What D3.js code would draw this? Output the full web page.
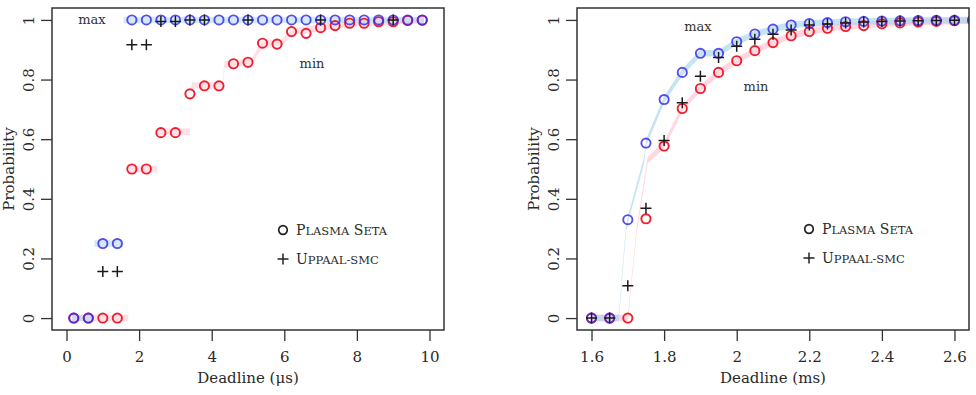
<!DOCTYPE html>
<html>
<head>
<meta charset="utf-8">
<script src="https://cdnjs.cloudflare.com/ajax/libs/d3/7.8.5/d3.min.js"></script>
<style>
  body { margin: 0; background: #fff; }
  svg { display: block; }
  text { font-family: 'DejaVu Serif', serif; fill: #2a2a2a; }
</style>
</head>
<body>
<svg id="chart" width="976" height="395"></svg>
<script>
// ---- left panel: deadline in microseconds ----
var leftX = [0.2, 0.6, 1.0, 1.4, 1.8, 2.2, 2.6, 3.0, 3.4, 3.8, 4.2, 4.6, 5.0,
             5.4, 5.8, 6.2, 6.6, 7.0, 7.4, 7.8, 8.2, 8.6, 9.0, 9.4, 9.8];
var leftMax = [0, 0, 0.25, 0.25, 1, 1, 1, 1, 1, 1, 1, 1, 1,
               1, 1, 1, 1, 1, 1, 1, 1, 1, 1, 1, 1];
var leftMin = [0, 0, 0, 0, 0.5, 0.5, 0.622, 0.622, 0.752, 0.779, 0.779, 0.853, 0.858,
               0.922, 0.919, 0.961, 0.955, 0.974, 0.981, 0.989, 0.989, 0.994, 0.994, 0.998, 0.999];
var leftUppX = [1.0, 1.4, 1.8, 2.2, 2.6, 3.0, 3.4, 3.8, 5.0, 7.0, 9.0];
var leftUppY = [0.156, 0.156, 0.917, 0.917, 0.995, 0.995, 1, 1, 1, 1, 1];
// exact curves drawn as faint bands behind the estimates
var leftMaxBandX = [0.15, 0.75, 0.77, 1.55, 1.57, 9.85];
var leftMaxBandY = [0, 0, 0.25, 0.25, 1, 1];
var leftMinBandX = [0.15, 1.7, 1.72, 2.5, 2.52, 3.4, 3.45, 4.3, 4.35, 5.1, 5.4, 5.95, 6.2, 6.8, 7.3, 8.0, 9.0, 9.85];
var leftMinBandY = [0, 0, 0.5, 0.5, 0.625, 0.625, 0.78, 0.78, 0.85, 0.86, 0.92, 0.925, 0.96, 0.97, 0.98, 0.99, 0.995, 1];
var leftTicks = [0, 2, 4, 6, 8, 10];

// ---- right panel: deadline in milliseconds ----
var rightX = [1.6, 1.65, 1.7, 1.75, 1.8, 1.85, 1.9, 1.95, 2.0, 2.05, 2.1,
              2.15, 2.2, 2.25, 2.3, 2.35, 2.4, 2.45, 2.5, 2.55, 2.6, 2.65];
var rightMax = [0, 0, 0.33, 0.587, 0.733, 0.824, 0.888, 0.888, 0.927, 0.953, 0.969,
                0.983, 0.988, 0.991, 0.994, 0.995, 0.996, 0.997, 0.998, 0.999, 0.999, 1];
var rightMin = [0, 0, 0, 0.333, 0.577, 0.703, 0.77, 0.824, 0.863, 0.897, 0.924,
                0.947, 0.961, 0.972, 0.978, 0.981, 0.987, 0.99, 0.993, 0.995, 0.997, 0.998];
var rightUppX = [1.6, 1.65, 1.7, 1.75, 1.8, 1.85, 1.9, 1.95, 2.0, 2.05, 2.1,
                 2.15, 2.2, 2.25, 2.3, 2.35, 2.4, 2.45, 2.5, 2.55, 2.6];
var rightUppY = [0, 0, 0.108, 0.368, 0.596, 0.722, 0.811, 0.874, 0.912, 0.935, 0.952,
                 0.966, 0.983, 0.986, 0.99, 0.993, 0.995, 0.996, 0.997, 0.998, 0.999];
var rightMaxBandX = [1.6, 1.675, 1.695, 1.7, 1.745, 1.75, 1.8, 1.85, 1.9, 1.95, 2.0, 2.05, 2.1,
                     2.15, 2.2, 2.25, 2.3, 2.4, 2.5, 2.65];
var rightMaxBandY = [0, 0, 0.3, 0.33, 0.53, 0.587, 0.733, 0.824, 0.888, 0.888, 0.927, 0.953, 0.969,
                     0.983, 0.988, 0.991, 0.994, 0.996, 0.998, 1];
var rightMinBandX = [1.6, 1.7, 1.725, 1.755, 1.8, 1.85, 1.9, 1.95, 2.0, 2.05, 2.1,
                     2.15, 2.2, 2.25, 2.3, 2.4, 2.5, 2.65];
var rightMinBandY = [0, 0, 0.3, 0.53, 0.58, 0.703, 0.77, 0.824, 0.863, 0.897, 0.924,
                     0.947, 0.961, 0.972, 0.978, 0.987, 0.993, 0.998];
var rightTicks = [1.6, 1.8, 2.0, 2.2, 2.4, 2.6];

var yTicks = [0, 0.2, 0.4, 0.6, 0.8, 1];

var BLUE = '#3b2cf0', RED = '#f01e2c';
var BAND_BLUE = '#a6d6ea', BAND_RED = '#ffc2cf';

var svg = d3.select('#chart');

function zip(xs, ys) {
  return xs.map(function(x, i) { return {x: x, y: ys[i]}; });
}

function drawPanel(p) {
  var x = d3.scaleLinear().domain(p.xDomain).range([p.left, p.right]);
  var y = d3.scaleLinear().domain([-0.04, 1.04]).range([p.bottom, p.top]);

  var g = svg.append('g');
  var clipId = 'clip-' + p.id;
  g.append('clipPath').attr('id', clipId)
    .append('rect')
      .attr('x', p.left).attr('y', p.top)
      .attr('width', p.right - p.left).attr('height', p.bottom - p.top);

  var plot = g.append('g').attr('clip-path', 'url(#' + clipId + ')');

  // bands: constant vertical half-width around the exact curves
  var band = d3.area()
    .x(function(d) { return x(d.x); })
    .y0(function(d) { return y(d.y - 0.011); })
    .y1(function(d) { return y(d.y + 0.011); });

  plot.append('path').datum(zip(p.minBandX, p.minBandY))
    .attr('d', band).attr('fill', BAND_RED).attr('opacity', p.bandOpacity);
  plot.append('path').datum(zip(p.maxBandX, p.maxBandY))
    .attr('d', band).attr('fill', BAND_BLUE).attr('opacity', p.bandOpacity);

  plot.selectAll('circle.min')
      .data(zip(p.xs, p.min))
    .enter().append('circle')
      .attr('class', 'min')
      .attr('cx', function(d) { return x(d.x); })
      .attr('cy', function(d) { return y(d.y); })
      .attr('r', 4.6)
      .attr('fill', 'none')
      .attr('stroke', RED)
      .attr('stroke-width', 1.9);

  plot.selectAll('circle.max')
      .data(zip(p.xs, p.max))
    .enter().append('circle')
      .attr('class', 'max')
      .attr('cx', function(d) { return x(d.x); })
      .attr('cy', function(d) { return y(d.y); })
      .attr('r', 4.6)
      .attr('fill', 'none')
      .attr('stroke', BLUE)
      .attr('stroke-opacity', 0.85)
      .attr('stroke-width', 1.9);

  plot.selectAll('path.upp')
      .data(zip(p.uppX, p.uppY))
    .enter().append('path')
      .attr('class', 'upp')
      .attr('d', function(d) {
        var cx = x(d.x), cy = y(d.y), s = 5.5;
        return 'M' + (cx - s) + ',' + cy + 'H' + (cx + s) +
               'M' + cx + ',' + (cy - s) + 'V' + (cy + s);
      })
      .attr('stroke', '#1a1a1a')
      .attr('stroke-width', 1.5);

  // box
  g.append('rect')
    .attr('x', p.left).attr('y', p.top)
    .attr('width', p.right - p.left).attr('height', p.bottom - p.top)
    .attr('fill', 'none').attr('stroke', '#333').attr('stroke-width', 1.5);

  // axes
  var xAxis = g.append('g')
    .attr('transform', 'translate(0,' + p.bottom + ')')
    .call(d3.axisBottom(x).tickValues(p.xTicks).tickSize(11).tickSizeOuter(0)
      .tickFormat(d3.format('~g')));
  xAxis.select('.domain').remove();
  xAxis.selectAll('line').attr('stroke', '#333').attr('stroke-width', 1.3);
  xAxis.selectAll('text')
    .attr('y', 0).attr('dy', 0)
    .attr('transform', 'translate(0,32)')
    .style('font-size', '15px')
    .style('font-family', "'DejaVu Serif', serif")
    .style('fill', '#2a2a2a');

  var yAxis = g.append('g')
    .attr('transform', 'translate(' + p.left + ',0)')
    .call(d3.axisLeft(y).tickValues(yTicks).tickSize(11).tickSizeOuter(0)
      .tickFormat(d3.format('~g')));
  yAxis.select('.domain').remove();
  yAxis.selectAll('line').attr('stroke', '#333').attr('stroke-width', 1.3);
  yAxis.selectAll('text')
    .attr('x', 0).attr('dy', 0)
    .attr('text-anchor', 'middle')
    .attr('transform', 'translate(-18,0) rotate(-90)')
    .style('font-size', '15px')
    .style('font-family', "'DejaVu Serif', serif")
    .style('fill', '#2a2a2a');

  // axis titles
  g.append('text')
    .attr('x', (p.left + p.right) / 2).attr('y', 383)
    .attr('text-anchor', 'middle')
    .style('font-size', '15px')
    .text(p.xTitle);

  g.append('text')
    .attr('transform', 'translate(' + (p.left - 38) + ',' + ((p.top + p.bottom) / 2) + ') rotate(-90)')
    .attr('text-anchor', 'middle')
    .style('font-size', '15px')
    .text('Probability');

  // max / min labels
  g.append('text').attr('x', p.maxLabel[0]).attr('y', p.maxLabel[1])
    .attr('text-anchor', 'middle').style('font-size', '13px').style('fill', '#333').text('max');
  g.append('text').attr('x', p.minLabel[0]).attr('y', p.minLabel[1])
    .attr('text-anchor', 'middle').style('font-size', '13px').style('fill', '#333').text('min');

  // legend
  var lg = g.append('g').attr('transform', 'translate(' + p.legend[0] + ',' + p.legend[1] + ')');
  lg.append('circle').attr('cx', 0).attr('cy', 0).attr('r', 4.3)
    .attr('fill', 'none').attr('stroke', '#222').attr('stroke-width', 1.7);
  lg.append('path').attr('d', 'M-5.5,29H5.5M0,23.5V34.5')
    .attr('stroke', '#222').attr('stroke-width', 1.5);

  var t1 = lg.append('text').attr('x', 13).attr('y', 5);
  smallCaps(t1, [['P', 14], ['LASMA', 11.5], [' S', 14], ['ETA', 11.5]]);
  var t2 = lg.append('text').attr('x', 13).attr('y', 34);
  smallCaps(t2, [['U', 14], ['PPAAL-SMC', 11.5]]);
}

function smallCaps(text, parts) {
  parts.forEach(function(part) {
    text.append('tspan').style('font-size', part[1] + 'px').text(part[0]);
  });
}

drawPanel({
  id: 'left', left: 52, right: 444, top: 8, bottom: 330,
  xDomain: [-0.4, 10.4], xTicks: leftTicks, xTitle: 'Deadline (\u03bcs)',
  xs: leftX, max: leftMax, min: leftMin, uppX: leftUppX, uppY: leftUppY,
  maxBandX: leftMaxBandX, maxBandY: leftMaxBandY,
  minBandX: leftMinBandX, minBandY: leftMinBandY, bandOpacity: 0.5,
  maxLabel: [92, 24], minLabel: [312, 68], legend: [283, 230]
});

drawPanel({
  id: 'right', left: 577, right: 969, top: 8, bottom: 330,
  xDomain: [1.56, 2.64], xTicks: rightTicks, xTitle: 'Deadline (ms)',
  xs: rightX, max: rightMax, min: rightMin, uppX: rightUppX, uppY: rightUppY,
  maxBandX: rightMaxBandX, maxBandY: rightMaxBandY,
  minBandX: rightMinBandX, minBandY: rightMinBandY, bandOpacity: 0.65,
  maxLabel: [698, 31], minLabel: [756, 91], legend: [809, 229]
});
</script>
</body>
</html>
